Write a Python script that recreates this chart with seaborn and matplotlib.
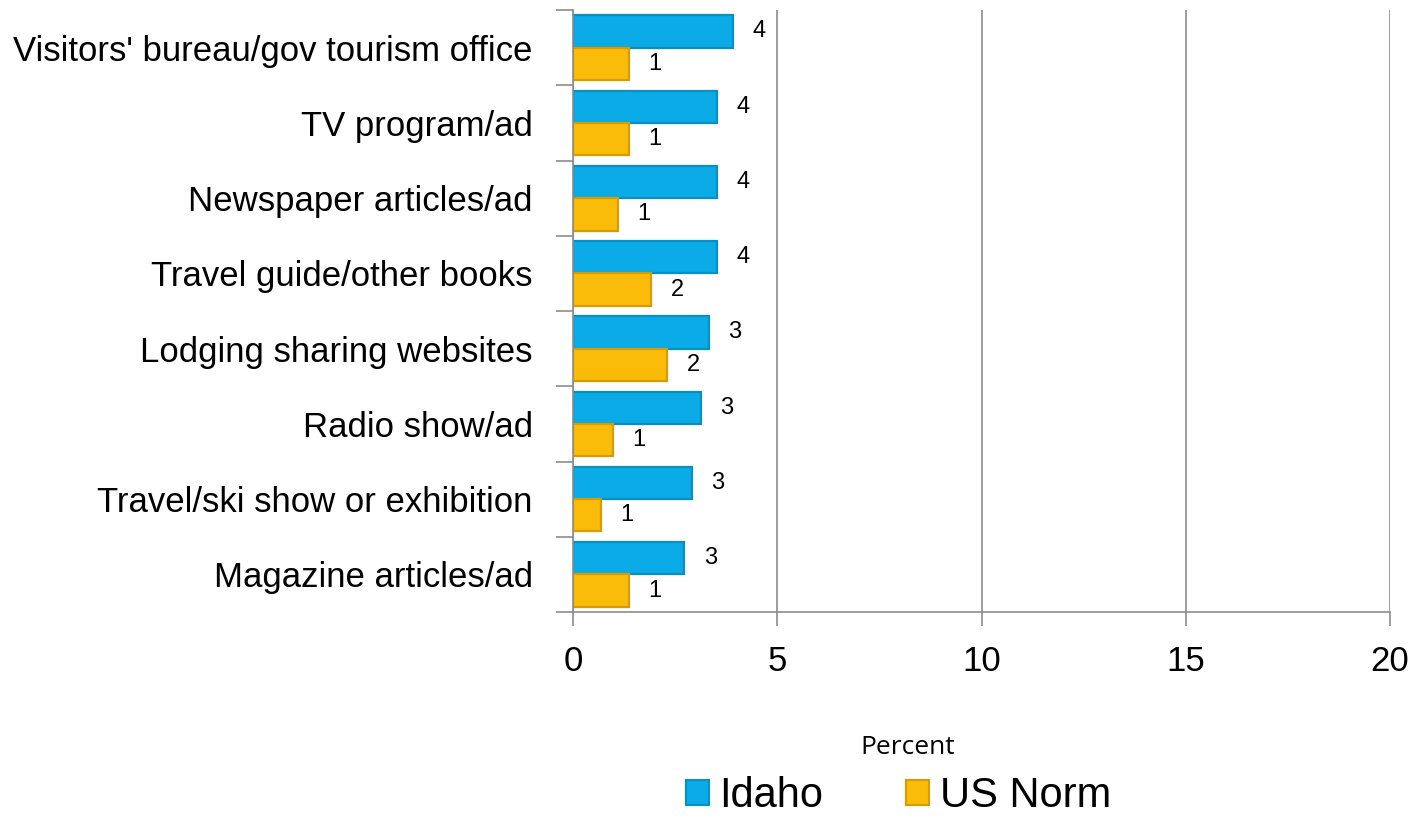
import matplotlib
matplotlib.use("Agg")
import matplotlib.pyplot as plt
from matplotlib.patches import Patch
from matplotlib.ticker import FixedLocator
import seaborn as sns
import pandas as pd

categories = [
    "Visitors' bureau/gov tourism office",
    "TV program/ad",
    "Newspaper articles/ad",
    "Travel guide/other books",
    "Lodging sharing websites",
    "Radio show/ad",
    "Travel/ski show or exhibition",
    "Magazine articles/ad",
]
idaho = [3.92, 3.52, 3.52, 3.52, 3.33, 3.13, 2.91, 2.72]
us_norm = [1.37, 1.37, 1.10, 1.91, 2.30, 0.98, 0.69, 1.37]
series = ["Idaho", "US Norm"]
x_ticks = [0, 5, 10, 15, 20]

colors = {"Idaho": "#0aabe6", "US Norm": "#fbbb09"}
edges = {"Idaho": "#0690c4", "US Norm": "#d89c00"}

df = pd.DataFrame({
    "category": categories * 2,
    "value": idaho + us_norm,
    "series": [series[0]] * len(categories) + [series[1]] * len(categories),
})

sns.set_theme(style="white")
plt.rcParams["font.family"] = ["Liberation Sans", "DejaVu Sans"]
plt.rcParams["font.sans-serif"] = ["Liberation Sans"]
plt.rcParams["text.color"] = "black"
plt.rcParams["xtick.color"] = "black"
plt.rcParams["ytick.color"] = "black"
plt.rcParams["axes.labelcolor"] = "black"

fig = plt.figure(figsize=(14.17, 8.16), dpi=100)
ax = fig.add_axes([0.4044, 0.25, 0.981 - 0.4044, 0.9877 - 0.25])

sns.barplot(
    data=df, y="category", x="value", hue="series", orient="h",
    palette=colors, saturation=1, width=0.86, gap=0, ax=ax, legend=False,
    order=categories, hue_order=series, errorbar=None,
)

# darker rim around each bar
for container, name in zip(ax.containers, series):
    for bar in container:
        bar.set_edgecolor(edges[name])
        bar.set_linewidth(1.6)
    ax.bar_label(container, labels=[f"{v:.0f}" for v in container.datavalues],
                 padding=14, fontsize=17, color="black")

ax.set_xlim(0, 20)
ax.set_ylim(len(categories) - 0.5, -0.5)
ax.xaxis.set_major_locator(FixedLocator(x_ticks))
ax.set_xticklabels([str(t) for t in x_ticks], fontsize=25)
ax.tick_params(axis="x", which="major", direction="out", length=10, width=1.2,
               color="#8c8c8c", pad=14, bottom=True)

ax.tick_params(axis="y", which="major", length=0, pad=29, labelsize=25)
ax.yaxis.set_minor_locator(FixedLocator([i - 0.5 for i in range(len(categories) + 1)]))
ax.tick_params(axis="y", which="minor", direction="out", length=12, width=1.2,
               color="#8c8c8c", left=True)

ax.grid(axis="x", color="#8c8c8c", linewidth=1.2)
ax.grid(axis="y", visible=False)
ax.set_axisbelow(True)
for side in ["top", "right"]:
    ax.spines[side].set_visible(False)
for side in ["left", "bottom"]:
    ax.spines[side].set_color("#8c8c8c")
    ax.spines[side].set_linewidth(1.2)

ax.set_ylabel("")
ax.set_xlabel("Percent", fontsize=19, family=["Open Sans", "DejaVu Sans"])
ax.xaxis.set_label_coords(0.409, -0.205)

handles = [Patch(facecolor=colors[s], edgecolor=edges[s], linewidth=1.5) for s in series]
fig.legend(handles, series, loc="center", bbox_to_anchor=(0.634, 1 - 796 / 816),
           ncol=2, frameon=False, fontsize=30, handlelength=0.55, handleheight=0.55,
           handletextpad=0.25, columnspacing=2.0, borderaxespad=0, borderpad=0)

fig.savefig("out.png", dpi=100)
